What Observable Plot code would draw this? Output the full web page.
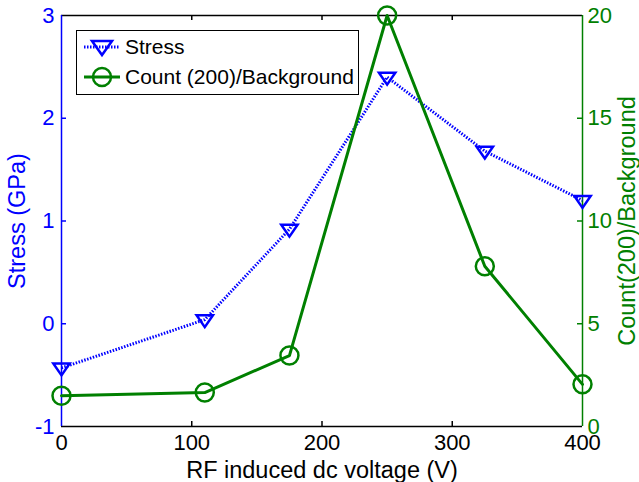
<!DOCTYPE html>
<html><head><meta charset="utf-8">
<script src="https://cdn.jsdelivr.net/npm/d3@7"></script>
<script src="https://cdn.jsdelivr.net/npm/@observablehq/plot@0.6"></script>
<style>
body{margin:0;background:#fff;}
#wrap{position:relative;width:639px;height:482px;font-family:"Liberation Sans",Arial,sans-serif;}
#legend{position:absolute;left:76px;top:30px;width:281px;height:63px;border:1.5px solid #000;background:#fff;font-size:21px;}
#legend .row{position:absolute;left:5px;height:28px;display:flex;align-items:center;}
#legend svg{margin-right:3px;}
</style></head>
<body><div id="wrap"><div id="legend">
<div class="row" style="top:2px"><svg width="40" height="28"><line x1="2" y1="14" x2="38" y2="14" stroke="#0000ff" stroke-width="3" stroke-dasharray="1.5 1.5"/><path d="M10,8 L30,8 L20,22 Z" fill="none" stroke="#0000ff" stroke-width="2.5"/></svg><span>Stress</span></div>
<div class="row" style="top:32px"><svg width="40" height="28"><line x1="2" y1="14" x2="38" y2="14" stroke="#008000" stroke-width="3"/><circle cx="20" cy="14" r="9" fill="none" stroke="#008000" stroke-width="2.5"/></svg><span>Count (200)/Background</span></div>
</div></div>
<script>
const voltage = [0, 110, 175, 250, 325, 400];
const stress = [-0.43, 0.04, 0.92, 2.40, 1.68, 1.20];
const countRatio = [1.5, 1.65, 3.45, 20, 7.8, 2.05];
const xTicks = [0, 100, 200, 300, 400];
const stressTicks = [-1, 0, 1, 2, 3];
const countTicks = [0, 5, 10, 15, 20];

const blue = "#0000ff", green = "#008000";
const W = 639, H = 482, mL = 61, mR = 57, mT = 15, mB = 56;
const ph = H - mT - mB, pw = W - mL - mR;
// map count axis (0..20) onto stress axis (-1..3)
const c2s = c => -1 + c / 5;
const s2c = s => (s + 1) * 5;

const sData = voltage.map((v, i) => ({v, y: stress[i]}));
const cData = voltage.map((v, i) => ({v, y: c2s(countRatio[i])}));

const triDown = {draw(ctx, size) {
  const r = Math.sqrt(size) * 0.6;
  ctx.moveTo(-r * 1.1, -r * 0.6); ctx.lineTo(r * 1.1, -r * 0.6); ctx.lineTo(0, r * 1.0); ctx.closePath();
}};

const chart = Plot.plot({
  width: W, height: H, marginLeft: mL, marginRight: mR, marginTop: mT, marginBottom: mB,
  style: {fontFamily: '"Liberation Sans", Arial, sans-serif', fontSize: "22px", background: "#fff", overflow: "visible"},
  x: {domain: [0, 400]},
  y: {domain: [-1, 3]},
  marks: [
    Plot.ruleY([-1, 3], {stroke: "#000", strokeWidth: 1.5}),
    Plot.ruleX([0], {stroke: blue, strokeWidth: 1.5}),
    Plot.ruleX([400], {stroke: green, strokeWidth: 1.5}),
    Plot.tickX(xTicks.slice(1, -1), {x: d => d, insetTop: ph - 5, stroke: "#000", strokeWidth: 1.5}),
    Plot.tickX(xTicks.slice(1, -1), {x: d => d, insetBottom: ph - 5, stroke: "#000", strokeWidth: 1.5}),
    Plot.tickY(stressTicks.slice(1, -1), {y: d => d, insetRight: pw - 5, stroke: blue, strokeWidth: 1.5}),
    Plot.tickY(countTicks.slice(1, -1).map(c2s), {y: d => d, insetLeft: pw - 5, stroke: green, strokeWidth: 1.5}),
    Plot.axisX({ticks: xTicks, tickSize: 0, tickPadding: 8, color: "#000", fontSize: 22, tickFormat: d => String(d),
      label: null}),
    Plot.axisY({anchor: "left", ticks: stressTicks, tickSize: 0, tickPadding: 7, color: blue, fontSize: 22,
      tickFormat: d => String(d), label: null}),
    Plot.axisY({anchor: "right", ticks: countTicks.map(c2s), tickFormat: d => String(Math.round(s2c(d))),
      tickSize: 0, tickPadding: 5, color: green, fontSize: 22, label: null}),
    Plot.axisX({ticks: [], tickSize: 0, color: "#000", fontSize: 23.5,
      label: "RF induced dc voltage (V)", labelAnchor: "center", labelArrow: "none", labelOffset: 51}),
    Plot.axisY({anchor: "left", ticks: [], tickSize: 0, color: blue, fontSize: 23.5,
      label: "Stress (GPa)", labelAnchor: "center", labelArrow: "none", labelOffset: 53}),
    Plot.axisY({anchor: "right", ticks: [], tickSize: 0, color: green, fontSize: 23.5,
      label: "Count(200)/Background", labelAnchor: "center", labelArrow: "none", labelOffset: 52}),
    Plot.line(sData, {x: "v", y: "y", stroke: blue, strokeWidth: 3, strokeDasharray: "1.5 1.5", strokeLinecap: "butt"}),
    Plot.line(cData, {x: "v", y: "y", stroke: green, strokeWidth: 3}),
    Plot.dot(sData, {x: "v", y: "y", symbol: triDown, r: 7, stroke: blue, strokeWidth: 2.5, fill: "none"}),
    Plot.dot(cData, {x: "v", y: "y", symbol: "circle", r: 9, stroke: green, strokeWidth: 2.5, fill: "none"})
  ]
});
document.getElementById("wrap").prepend(chart);
chart.style.position = "absolute"; chart.style.left = "0"; chart.style.top = "0";
</script></body></html>
